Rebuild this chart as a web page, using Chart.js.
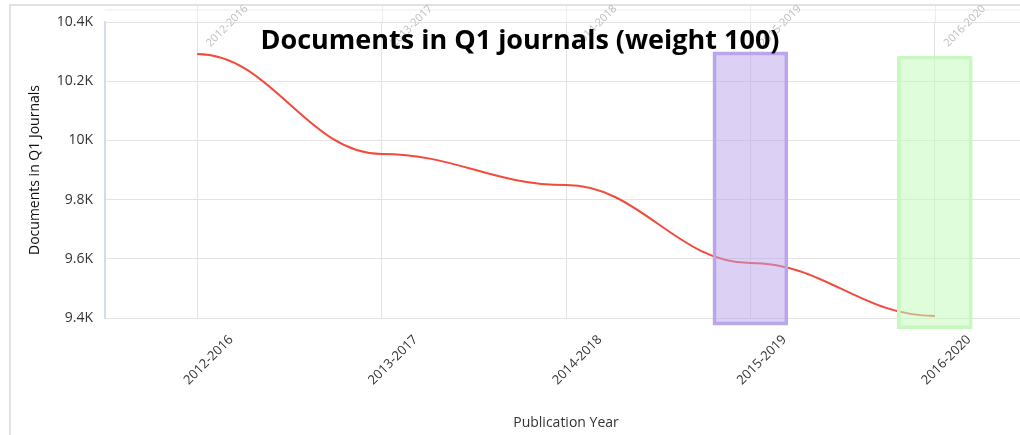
<!DOCTYPE html>
<html>
<head>
<meta charset="utf-8">
<script src="https://cdn.jsdelivr.net/npm/chart.js@4/dist/chart.umd.min.js"></script>
<style>
  html, body { margin: 0; padding: 0; background: #fff; overflow: hidden; width: 1020px; height: 435px; }
  #wrap { position: relative; width: 1040px; height: 435px; }
  #frame { position: absolute; left: 9px; top: 4px; width: 1040px; height: 440px;
           border-left: 2px solid #e2e2e2; border-top: 2px solid #e2e2e2; }
  #title { position: absolute; left: 0; top: 20px; width: 1040px; text-align: center;
           font: 700 27px "Open Sans", sans-serif; color: #000; }
  canvas { position: absolute; left: 0; top: 0; }
</style>
</head>
<body>
<div id="wrap">
  <div id="frame"></div>
  <canvas id="chartCanvas" width="1040" height="435"></canvas>
  <div id="title">Documents in Q1 journals (weight 100)</div>
</div>
<script>
// data
const years = ['2012-2016', '2013-2017', '2014-2018', '2015-2019', '2016-2020'];
const docsQ1 = [10292, 9954, 9849, 9586, 9407];
// highlighted boxes drawn over the last two periods (floating bars)
const highlightRange = [null, null, null, [9376, 10299], [9363, 10285]];
const highlightFill = ['', '', '', 'rgba(186,164,236,0.5)', 'rgba(196,250,190,0.55)'];
const highlightBorder = ['', '', '', '#baa6ec', '#c8f7c0'];

// the original curve leaves every point flat, so keep control points level
const flatSpline = {
    id: 'flatSpline',
    beforeDatasetsDraw(chart) {
        const meta = chart.getDatasetMeta(1);
        const pts = meta.data;
        meta.dataset.updateControlPoints(chart.chartArea, 'x');
        for (let i = 0; i < pts.length; i++) {
            const p = pts[i];
            const prev = pts[i - 1] || p;
            const next = pts[i + 1] || p;
            p.cp1x = p.x - (p.x - prev.x) * 0.4;
            p.cp1y = p.y;
            p.cp2x = p.x + (next.x - p.x) * 0.4;
            p.cp2y = p.y;
        }
    }
};

// faded copy of the period labels along the top (screenshot leftovers)
const topLabels = {
    id: 'topLabels',
    afterDraw(chart) {
        const ctx = chart.ctx;
        const x = chart.scales.x;
        const top = chart.chartArea.top;
        ctx.save();
        ctx.strokeStyle = '#ececec';
        ctx.lineWidth = 1;
        ctx.beginPath();
        ctx.moveTo(chart.chartArea.left, top - 12);
        ctx.lineTo(chart.chartArea.right, top - 12);
        years.forEach((lab, i) => {
            const px = Math.round(x.getPixelForValue(i)) + 0.5;
            ctx.moveTo(px, top - 16);
            ctx.lineTo(px, top);
        });
        ctx.stroke();

        ctx.fillStyle = '#bdbdbd';
        ctx.font = '11px "Open Sans"';
        ctx.textAlign = 'center';
        ctx.textBaseline = 'middle';
        years.forEach((lab, i) => {
            ctx.save();
            ctx.translate(x.getPixelForValue(i) + 30, top + 4);
            ctx.rotate(-Math.PI / 4);
            ctx.fillText(lab, 0, 0);
            ctx.restore();
        });
        ctx.restore();
    }
};

const ctx = document.getElementById('chartCanvas');
window.myChart = new Chart(ctx, {
    type: 'line',
    data: {
        labels: years,
        datasets: [{
            type: 'bar',
            label: 'highlight',
            data: highlightRange,
            backgroundColor: highlightFill,
            borderColor: highlightBorder,
            borderWidth: 3,
            borderSkipped: false,
            barThickness: 75,
            clip: false,
            order: 0
        }, {
            label: 'Documents in Q1 Journals',
            data: docsQ1,
            borderColor: '#f24b3c',
            borderWidth: 2,
            pointRadius: 0,
            tension: 0.4,
            fill: false,
            order: 1
        }]
    },
    options: {
        responsive: false,
        animation: false,
        layout: { padding: { left: 23, right: 13, top: 22, bottom: 0 } },
        plugins: {
            legend: { display: false },
            tooltip: { enabled: false }
        },
        scales: {
            x: {
                offset: true,
                grid: { offset: false, color: '#e3e3e3', drawTicks: false },
                border: { display: false },
                ticks: {
                    minRotation: 45,
                    maxRotation: 45,
                    labelOffset: 34,
                    padding: 14,
                    color: '#333',
                    font: { family: 'Open Sans', size: 13 }
                },
                title: {
                    display: true,
                    text: 'Publication Year',
                    color: '#333',
                    font: { family: 'Open Sans', size: 14 }
                },
                afterFit: scale => { scale.height = 117; scale.paddingLeft = 0; scale.paddingRight = 0; }
            },
            y: {
                min: 9400,
                max: 10400,
                ticks: {
                    stepSize: 200,
                    padding: 12,
                    color: '#333',
                    font: { family: 'Open Sans', size: 14 },
                    callback: v => Math.round(v / 100) / 10 + 'K'
                },
                grid: { color: '#e3e3e3', drawTicks: false },
                border: { color: '#d3dbec', width: 2 },
                title: {
                    display: true,
                    text: 'Documents in Q1 Journals',
                    color: '#111',
                    font: { family: 'Open Sans', size: 14 }
                },
                afterFit: scale => { scale.width = 82; }
            }
        }
    },
    plugins: [flatSpline, topLabels]
});
</script>
</body>
</html>
